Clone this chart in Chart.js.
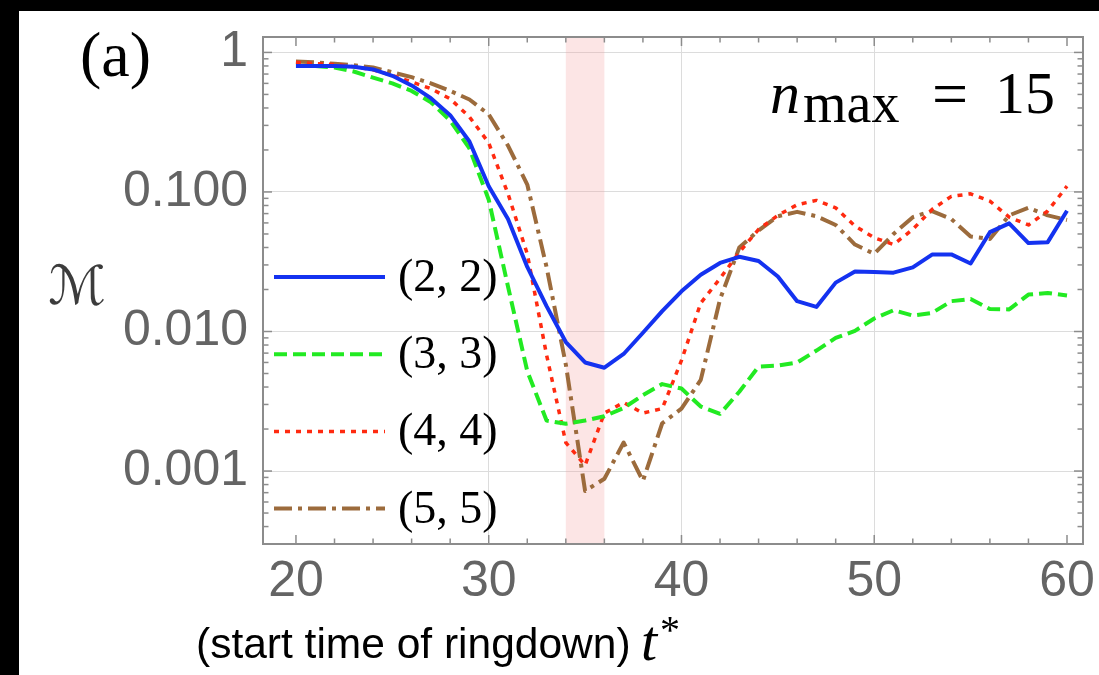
<!DOCTYPE html>
<html>
<head>
<meta charset="utf-8">
<script src="https://cdn.jsdelivr.net/npm/chart.js@4.4.1/dist/chart.umd.min.js"></script>
<style>
  html, body { margin: 0; padding: 0; background: #000; }
  #wrap { width: 1099px; height: 675px; }
</style>
</head>
<body>
<div id="wrap"><canvas id="chart"></canvas></div>
<script>
// start time of ringdown t*
const startTimes = [20, 21, 22, 23, 24, 25, 26, 27, 28, 29, 30, 31, 32, 33, 34, 35, 36, 37, 38, 39, 40,
                    41, 42, 43, 44, 45, 46, 47, 48, 49, 50, 51, 52, 53, 54, 55, 56, 57, 58, 59, 60];

// mismatch M for each (l, m) mode
const mode22 = [0.80, 0.80, 0.80, 0.79, 0.755, 0.68, 0.58, 0.47, 0.355, 0.23, 0.11, 0.064, 0.029, 0.0152, 0.0084, 0.006, 0.0055, 0.0069, 0.0098, 0.014, 0.0194,
                0.0255, 0.031, 0.0343, 0.032, 0.0248, 0.0165, 0.015, 0.0224, 0.0269, 0.0267, 0.0264, 0.0288, 0.0356, 0.0357, 0.0307, 0.0515, 0.0596, 0.043, 0.0437, 0.0733];
const mode33 = [0.80, 0.80, 0.78, 0.73, 0.66, 0.60, 0.53, 0.44, 0.325, 0.205, 0.088, 0.021, 0.0052, 0.0023, 0.00218, 0.0023, 0.00247, 0.00283, 0.0035, 0.0042, 0.0039,
                0.0029, 0.00257, 0.0037, 0.0056, 0.0057, 0.006, 0.0073, 0.009, 0.0101, 0.0124, 0.0142, 0.013, 0.0136, 0.0165, 0.0171, 0.0145, 0.0144, 0.0184, 0.0189, 0.0181];
const mode44 = [0.85, 0.83, 0.82, 0.79, 0.75, 0.685, 0.615, 0.55, 0.465, 0.345, 0.225, 0.097, 0.036, 0.0068, 0.0016, 0.0011, 0.0026, 0.0031, 0.0026, 0.0028, 0.0062,
                0.016, 0.024, 0.037, 0.054, 0.068, 0.081, 0.087, 0.077, 0.057, 0.047, 0.042, 0.054, 0.075, 0.093, 0.097, 0.086, 0.066, 0.058, 0.073, 0.11];
const mode55 = [0.86, 0.85, 0.83, 0.81, 0.78, 0.72, 0.665, 0.60, 0.53, 0.46, 0.36, 0.215, 0.113, 0.029, 0.0058, 0.00072, 0.00088, 0.0016, 0.00085, 0.0022, 0.0028,
                0.0045, 0.017, 0.040, 0.053, 0.067, 0.072, 0.067, 0.058, 0.042, 0.036, 0.050, 0.066, 0.073, 0.064, 0.048, 0.046, 0.068, 0.077, 0.068, 0.063];

const seriesLabels = ['(2, 2)', '(3, 3)', '(4, 4)', '(5, 5)'];
const xTickValues = [20, 30, 40, 50, 60];
const yTickValues = [1, 0.1, 0.01, 0.001];
const yTickLabels = ['1', '0.100', '0.010', '0.001'];
const shadedRange = [34, 36];

function pairs(vals) {
    return startTimes.map((t, i) => ({ x: t, y: vals[i] }));
}

// labels must not push the plot area around
function noScalePadding(s) {
    s.paddingTop = 0;
    s.paddingBottom = 0;
    s.paddingLeft = 0;
    s.paddingRight = 0;
}

const decor = {
    id: 'decor',
    beforeDraw(chart) {
        const c = chart.ctx;
        c.save();
        c.fillStyle = '#000';
        c.fillRect(0, 0, chart.width, chart.height);
        c.fillStyle = '#fff';
        c.fillRect(19, 11, chart.width - 19, chart.height - 11);
        c.restore();
    },
    beforeDatasetsDraw(chart) {
        const c = chart.ctx, a = chart.chartArea, x = chart.scales.x;
        const x0 = x.getPixelForValue(shadedRange[0]);
        const x1 = x.getPixelForValue(shadedRange[1]);
        c.save();
        c.fillStyle = 'rgba(245,150,150,0.25)';
        c.fillRect(x0, a.top, x1 - x0, a.bottom - a.top);
        c.restore();
    },
    afterDatasetsDraw(chart) {
        const c = chart.ctx, a = chart.chartArea;
        const x = chart.scales.x, y = chart.scales.y;
        c.save();

        // frame with inward ticks
        c.strokeStyle = '#8c8c8c';
        c.lineWidth = 2;
        c.strokeRect(a.left, a.top, a.right - a.left, a.bottom - a.top);
        c.lineWidth = 1.5;
        const seg = (x0, y0, x1, y1) => { c.beginPath(); c.moveTo(x0, y0); c.lineTo(x1, y1); c.stroke(); };
        for (let t = 20; t <= 60; t += 2) {
            const px = x.getPixelForValue(t);
            const len = t % 10 === 0 ? 9 : 5.5;
            seg(px, a.bottom, px, a.bottom - len);
            seg(px, a.top, px, a.top + len);
        }
        for (let e = -4; e <= 0; e++) {
            for (let m = 1; m <= 9; m++) {
                const v = m * Math.pow(10, e);
                if (v < y.min || v > y.max) continue;
                const py = y.getPixelForValue(v);
                const len = m === 1 ? 9 : 5.5;
                seg(a.left, py, a.left + len, py);
                seg(a.right, py, a.right - len, py);
            }
        }

        // legend inside the plot
        chart.data.datasets.forEach((ds, i) => {
            const yy = 277 + i * 77.2;
            c.strokeStyle = ds.borderColor;
            c.lineWidth = ds.borderWidth;
            c.setLineDash(ds.borderDash || []);
            seg(274, yy, 385, yy);
            c.setLineDash([]);
            c.fillStyle = '#000';
            c.font = '46px "Liberation Serif"';
            c.textBaseline = 'middle';
            c.textAlign = 'left';
            c.fillText(ds.label, 398, yy + 2);
        });

        // panel label
        c.textBaseline = 'alphabetic';
        c.fillStyle = '#000';
        c.font = '64px "Liberation Serif"';
        c.fillText('(a)', 80, 76);

        // n_max = 15
        c.font = 'italic 60px "Liberation Serif"';
        c.fillText('n', 770, 113);
        c.font = '56px "Liberation Serif"';
        c.fillText('max', 803, 122);
        c.font = '64px "Liberation Serif"';
        c.textAlign = 'center';
        c.fillText('=', 950, 115);
        c.font = '60px "Liberation Serif"';
        c.textAlign = 'right';
        c.fillText('15', 1055, 113);

        // y title
        c.textAlign = 'center';
        c.textBaseline = 'middle';
        c.fillStyle = '#3c3c3c';
        c.font = '54px "DejaVu Sans"';
        c.fillText('\u2133', 77, 290);

        // x title
        c.textAlign = 'left';
        c.textBaseline = 'alphabetic';
        c.fillStyle = '#000';
        c.font = '42.5px "Liberation Sans"';
        c.fillText('(start time of ringdown)', 196, 658);
        c.font = 'italic 58px "Liberation Serif"';
        c.fillText('t', 641, 660);
        c.font = '40px "Liberation Serif"';
        c.fillText('*', 660, 643);

        c.restore();
    }
};

const ctx = document.getElementById('chart').getContext('2d');
new Chart(ctx, {
    type: 'line',
    data: {
        datasets: [
            { label: seriesLabels[0], data: pairs(mode22), borderColor: '#1432f0', borderWidth: 4 },
            { label: seriesLabels[1], data: pairs(mode33), borderColor: '#22ea22', borderWidth: 4, borderDash: [13, 6] },
            { label: seriesLabels[2], data: pairs(mode44), borderColor: '#ff2a10', borderWidth: 3.5, borderDash: [5, 6] },
            { label: seriesLabels[3], data: pairs(mode55), borderColor: '#9c6b3c', borderWidth: 4, borderDash: [18, 6, 4, 6] }
        ]
    },
    options: {
        responsive: true,
        maintainAspectRatio: false,
        devicePixelRatio: 1,
        animation: false,
        layout: { padding: { left: 19, top: 37, right: 16, bottom: 0 } },
        elements: { point: { radius: 0 }, line: { tension: 0, borderJoinStyle: 'round' } },
        plugins: { legend: { display: false }, tooltip: { enabled: false } },
        scales: {
            x: {
                type: 'linear',
                min: 18.29,
                max: 60.83,
                afterBuildTicks: (s) => { s.ticks = xTickValues.map(v => ({ value: v })); },
                afterFit: (s) => { s.height = 131; noScalePadding(s); },
                ticks: {
                    autoSkip: false, maxRotation: 0, padding: 8,
                    color: '#646464',
                    font: { family: '"Liberation Sans"', size: 50 },
                    callback: (v) => String(v)
                },
                grid: {
                    drawTicks: false,
                    color: (c) => (c.tick && c.tick.value > 20 && c.tick.value < 60) ? '#dcdcdc' : 'rgba(0,0,0,0)'
                },
                border: { display: false }
            },
            y: {
                type: 'logarithmic',
                min: 0.00034,
                max: 1.29,
                afterBuildTicks: (s) => { s.ticks = yTickValues.map(v => ({ value: v })); },
                afterFit: (s) => { s.width = 244; noScalePadding(s); },
                ticks: {
                    autoSkip: false, padding: 15,
                    color: '#646464',
                    font: { family: '"Liberation Sans"', size: 50 },
                    callback: (v) => {
                        const i = yTickValues.findIndex(t => Math.abs(Math.log10(v / t)) < 1e-6);
                        return i >= 0 ? yTickLabels[i] : '';
                    }
                },
                grid: { drawTicks: false, color: '#dcdcdc' },
                border: { display: false }
            }
        }
    },
    plugins: [decor]
});
</script>
</body>
</html>
